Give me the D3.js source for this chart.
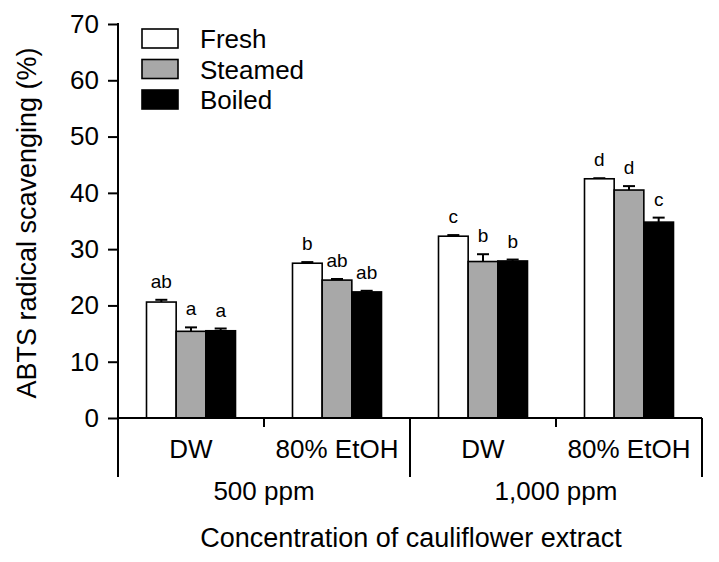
<!DOCTYPE html>
<html>
<head>
<meta charset="utf-8">
<script src="https://cdn.jsdelivr.net/npm/d3@7"></script>
<style>
  html, body { margin: 0; padding: 0; background: #fff; }
  text { font-family: "Liberation Sans", Arial, sans-serif; fill: #000; }
</style>
</head>
<body>
<svg id="chart" width="719" height="562"></svg>
<script>
const groups = ["500-DW", "500-EtOH", "1000-DW", "1000-EtOH"];
const groupLabels = ["DW", "80% EtOH", "DW", "80% EtOH"];
const concentrations = ["500 ppm", "1,000 ppm"];
const series = ["Fresh", "Steamed", "Boiled"];
const fresh = [20.6, 27.5, 32.3, 42.5];
const freshErr = [0.4, 0.2, 0.2, 0.1];
const steamed = [15.4, 24.5, 27.8, 40.5];
const steamedErr = [0.7, 0.2, 1.3, 0.7];
const boiled = [15.5, 22.4, 27.9, 34.8];
const boiledErr = [0.4, 0.2, 0.25, 0.8];
const freshLetters = ["ab", "b", "c", "d"];
const steamedLetters = ["a", "ab", "b", "d"];
const boiledLetters = ["a", "ab", "b", "c"];
const yTicks = [0, 10, 20, 30, 40, 50, 60, 70];
const yTitle = "ABTS radical scavenging (%)";
const xTitle = "Concentration of cauliflower extract";

(function () {
const colors = { Fresh: "#ffffff", Steamed: "#a8a8a8", Boiled: "#000000" };
const valueMap = { Fresh: fresh, Steamed: steamed, Boiled: boiled };
const errMap = { Fresh: freshErr, Steamed: steamedErr, Boiled: boiledErr };
const letterMap = { Fresh: freshLetters, Steamed: steamedLetters, Boiled: boiledLetters };

const svg = d3.select("#chart");
const pLeft = 118, pRight = 702, pTop = 24, pBase = 418, pBottomLine = 477;

const y = d3.scaleLinear().domain([0, 70]).range([pBase, pTop]);
const x0 = d3.scaleBand().domain(groups).range([pLeft, pRight]).padding(0);
const x1 = d3.scaleBand().domain(series).range([28.5, 117.5]).padding(0);
const xConc = d3.scaleBand().domain(concentrations).range([pLeft, pRight]).padding(0);

const rows = [];
groups.forEach((g, i) => series.forEach(s => rows.push({
  g, s, v: valueMap[s][i], e: errMap[s][i], l: letterMap[s][i]
})));
const cx = d => x0(d.g) + x1(d.s) + x1.bandwidth() / 2;

const gBars = svg.append("g");
gBars.selectAll("line.err").data(rows).enter().append("line").attr("class", "err")
  .attr("x1", cx).attr("x2", cx)
  .attr("y1", d => y(d.v)).attr("y2", d => y(d.v + d.e))
  .attr("stroke", "#000").attr("stroke-width", 2);
gBars.selectAll("line.cap").data(rows).enter().append("line").attr("class", "cap")
  .attr("x1", d => cx(d) - 6).attr("x2", d => cx(d) + 6)
  .attr("y1", d => y(d.v + d.e)).attr("y2", d => y(d.v + d.e))
  .attr("stroke", "#000").attr("stroke-width", 2);
gBars.selectAll("rect").data(rows).enter().append("rect")
  .attr("x", d => x0(d.g) + x1(d.s))
  .attr("width", x1.bandwidth())
  .attr("y", d => y(d.v))
  .attr("height", d => pBase - y(d.v))
  .attr("fill", d => colors[d.s])
  .attr("stroke", "#000").attr("stroke-width", 1.6);
gBars.selectAll("text.lt").data(rows).enter().append("text").attr("class", "lt")
  .attr("x", cx)
  .attr("y", d => y(d.v + d.e) - 12)
  .attr("text-anchor", "middle")
  .attr("font-size", 19)
  .text(d => d.l);

const yAxis = d3.axisLeft(y).tickValues(yTicks).tickSize(10).tickPadding(9).tickSizeOuter(0);
const ga = svg.append("g").attr("transform", `translate(${pLeft},0)`).call(yAxis);
ga.select(".domain").remove();
ga.selectAll(".tick line").attr("stroke-width", 2);
ga.selectAll(".tick text").attr("font-size", 26).attr("font-family", "Liberation Sans, Arial, sans-serif");
svg.append("line").attr("x1", pLeft).attr("x2", pLeft).attr("y1", pTop - 1).attr("y2", pBottomLine)
  .attr("stroke", "#000").attr("stroke-width", 2);

svg.append("line").attr("x1", pLeft).attr("x2", pRight).attr("y1", pBase).attr("y2", pBase)
  .attr("stroke", "#000").attr("stroke-width", 2);
concentrations.forEach(c => {
  const mx = xConc(c) + xConc.bandwidth() / 2;
  svg.append("line").attr("x1", mx).attr("x2", mx).attr("y1", pBase).attr("y2", pBase + 9)
    .attr("stroke", "#000").attr("stroke-width", 2);
});
[xConc(concentrations[1]), pRight].forEach(px => {
  svg.append("line").attr("x1", px).attr("x2", px).attr("y1", pBase).attr("y2", pBottomLine)
    .attr("stroke", "#000").attr("stroke-width", 2);
});

svg.selectAll("text.grp").data(groups).enter().append("text").attr("class", "grp")
  .attr("x", d => x0(d) + x0.bandwidth() / 2)
  .attr("y", 458)
  .attr("text-anchor", "middle").attr("font-size", 26)
  .text((d, i) => groupLabels[i]);
svg.selectAll("text.conc").data(concentrations).enter().append("text").attr("class", "conc")
  .attr("x", d => xConc(d) + xConc.bandwidth() / 2)
  .attr("y", 500)
  .attr("text-anchor", "middle").attr("font-size", 26)
  .text(d => d);

svg.append("text").attr("x", (pLeft + pRight) / 2 + 1).attr("y", 547)
  .attr("text-anchor", "middle").attr("font-size", 27).text(xTitle);
svg.append("text").attr("transform", `translate(36,${(pTop + pBase) / 2 + 2}) rotate(-90)`)
  .attr("text-anchor", "middle").attr("font-size", 27).text(yTitle);

const lg = svg.append("g");
series.forEach((s, i) => {
  lg.append("rect").attr("x", 142).attr("y", 29 + i * 30.5).attr("width", 36).attr("height", 19)
    .attr("fill", colors[s]).attr("stroke", "#000").attr("stroke-width", 1.6);
  lg.append("text").attr("x", 200).attr("y", 29 + i * 30.5 + 19).attr("font-size", 26).text(s);
});
})();
</script>
</body>
</html>
